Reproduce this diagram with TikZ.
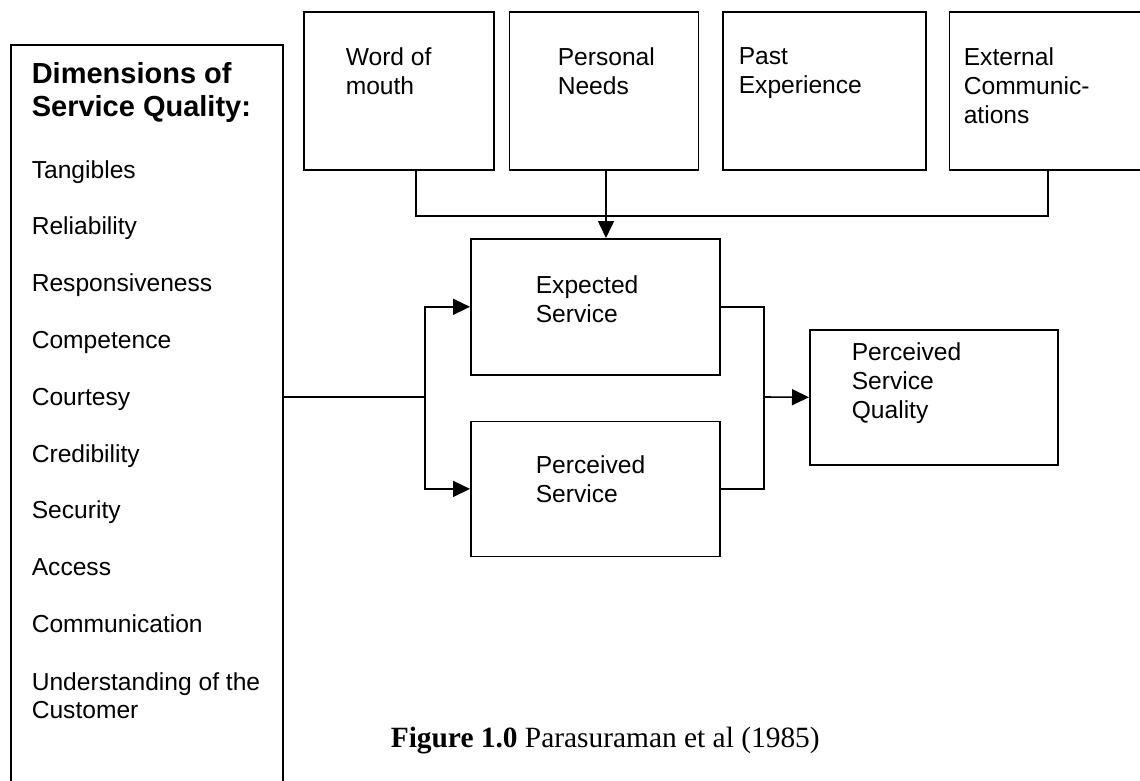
\documentclass[tikz,border=0pt]{standalone}
\usepackage{fontspec}
\setmainfont{Liberation Sans}
\newfontfamily\serifcap{Liberation Serif}
\usetikzlibrary{positioning,arrows.meta}

\begin{document}
\begin{tikzpicture}[
  x=0.5pt, y=-0.5pt,
  line width=0.8pt,
  box/.style={rectangle, draw, inner sep=0pt, anchor=north west},
  topbox/.style={box, minimum height=79pt},
  midbox/.style={box, minimum width=124.5pt, minimum height=68pt},
  txt/.style={anchor=north west, inner sep=0pt, align=left, font=\fontsize{12.3pt}{14.5pt}\selectfont},
  item/.style={anchor=base west, inner sep=0pt, font=\fontsize{12.3pt}{14pt}\selectfont},
  arr/.style={-{Triangle[length=8.5pt,width=8pt]}}
]
\useasboundingbox (0,0) rectangle (1140,781);

% dimensions box (runs off the page)
\node[box, minimum width=136pt, minimum height=380pt] (dims) at (10,44) {};
\node[txt, font=\bfseries\fontsize{14.5pt}{16.5pt}\selectfont] (dimstitle) at (31,62) {Dimensions of\\Service Quality:};
\foreach \name [count=\i from 0] in {Tangibles, Reliability, Responsiveness, Competence, Courtesy, Credibility, Security, Access, Communication}
  \node[item] (dim\i) at (31,178+56.8*\i) {\name};
\node[txt, font=\fontsize{12.3pt}{14pt}\selectfont] (dim9) at (31,672) {Understanding of the\\Customer};

% expectation sources
\node[topbox, minimum width=95pt] (wom) at (303,11) {};
\node[topbox, minimum width=94.5pt, right=7pt of wom] (needs) {};
\node[topbox, minimum width=101.5pt, right=11.5pt of needs] (past) {};
\node[topbox, minimum width=97pt, right=11pt of past] (extcom) {};
\node[txt] (womtxt) at (345,47) {Word of\\mouth};
\node[txt] (needstxt) at (557,47) {Personal\\Needs};
\node[txt] (pasttxt) at (738,47) {Past\\Experience};
\node[txt] (exttxt) at (963,47) {External\\Communic-\\ations};

% service boxes
\node[midbox] (expected) at (470,238) {};
\node[midbox, minimum height=67.5pt, below=22.5pt of expected] (perceived) {};
\node[midbox, minimum width=124pt, minimum height=67.5pt] (psq) at (809,329) {};
\node[txt] (exptxt) at (535,275) {Expected\\Service};
\node[txt] (pertxt) at (535,455) {Perceived\\Service};
\node[txt] (psqtxt) at (851,342) {Perceived\\Service\\Quality};

% caption
\node[anchor=base west, inner sep=0pt, font=\serifcap\fontsize{14.7pt}{17pt}\selectfont] (caption) at (390,747) {\textbf{Figure 1.0} Parasuraman et al (1985)};

\coordinate (jl) at (416,216);
\coordinate (jr) at (1048,216);
\coordinate (drop) at (606,216);
\coordinate (fork) at (425,397);
\coordinate (merge) at (764,397);

\draw (wom.south -| jl) -- (jl) -- (jr) -- (extcom.south -| jr);
\draw[arr] (needs.south -| drop) -- (expected.north -| drop);
\draw (dims.east |- fork) -- (fork);
\draw[arr] (fork) |- (expected.west);
\draw[arr] (fork) |- (perceived.west);
\draw (expected.east) -| (merge);
\draw (perceived.east) -| (merge);
\draw[arr] (merge) -- (psq.west);
\end{tikzpicture}
\end{document}
